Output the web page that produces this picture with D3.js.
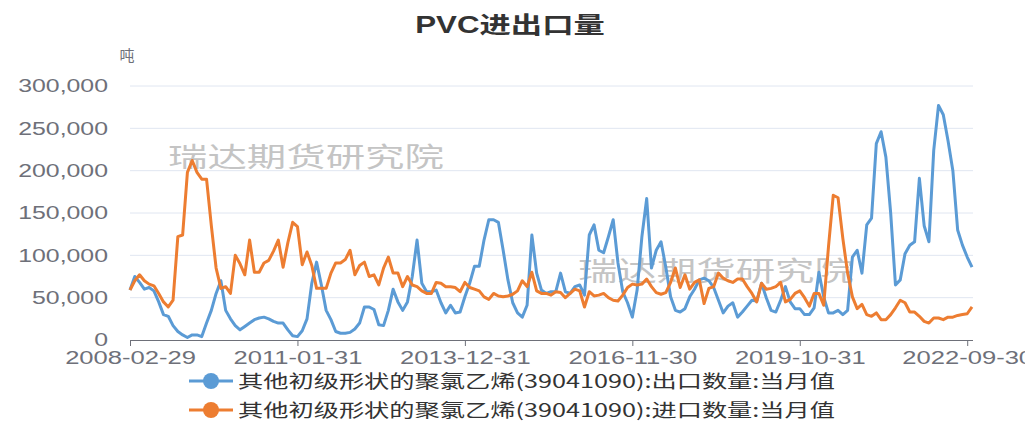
<!DOCTYPE html>
<html>
<head>
<meta charset="utf-8">
<script src="https://cdn.jsdelivr.net/npm/d3@7/dist/d3.min.js"></script>
<style>
  html, body { margin: 0; padding: 0; background: #fff; }
  svg { display: block; font-family: "Liberation Sans", Arial, "Noto Sans CJK SC", sans-serif; }
</style>
</head>
<body>
<svg id="chart" width="1025" height="422"></svg>
<script>
// PVC import / export volumes, monthly, 2008-02 .. 2022-10 (thousand tonnes)
const START = new Date(2008, 2, 1); // month-end labels: first of next month minus a day
const N = 177;

const yTicks = [0, 50000, 100000, 150000, 200000, 250000, 300000];

const seriesNames = [
  "其他初级形状的聚氯乙烯(39041090):出口数量:当月值",
  "其他初级形状的聚氯乙烯(39041090):进口数量:当月值"
];
const seriesColors = ["#5b9bd5", "#ed7d31"];

// export (blue), thousand tonnes
const exportK = [
  59,75,68,60,62,58,45,30,28,17,10,6,3,6,6,4,20,35,55,70,35,25,17,12,16,20,24,26,27,25,
  22,20,20,12,5,4,11,25,67,92,65,35,24,10,8,8,9,13,20,39,39,36,18,17,35,60,45,
  35,45,75,118,67,57,57,59,44,32,
  41,32,33,51,67,87,87,118,142,142,
  139,106,71,44,32,27,41,124,79,59,
  55,57,57,79,57,55,63,65,53,124,
  136,106,103,122,142,91,57,44,27,59,
  122,167,85,106,116,86,51,35,33,37,
  51,60,71,73,70,62,47,32,40,44,
  27,33,40,47,46,67,50,35,33,47,
  63,45,37,37,30,30,38,80,51,32,
  32,35,30,35,98,106,79,136,144,232,
  246,216,150,65,71,102,112,116,191,135,
  116,224,277,266,235,200,130,112,98,86
];

// import (orange), thousand tonnes
const importK = [
  59,70,77,70,66,64,55,45,39,47,122,124,198,212,198,190,190,135,85,61,63,55,100,90,77,118,80,80,91,94,
  105,118,86,115,139,134,89,104,88,61,61,61,79,91,91,95,106,77,88,92,75,77,65,85,98,79,79,
  63,75,65,63,58,55,55,68,67,63,
  63,62,57,68,62,60,58,51,48,55,
  52,51,52,54,58,70,63,80,58,55,
  55,53,57,56,50,55,60,58,39,57,
  52,53,55,50,47,46,53,62,66,65,
  66,72,63,56,54,56,68,85,62,77,
  60,68,71,43,61,63,79,73,70,68,
  72,72,63,55,45,67,60,61,63,68,
  45,48,55,58,50,40,55,55,41,110,
  171,168,120,79,51,37,42,30,28,32,
  24,24,30,38,47,44,33,33,28,22,
  20,26,26,24,27,27,29,30,31,39
];

const fmtDay = d3.timeFormat("%Y-%m-%d");
const monthLabels = d3.range(N).map(i => fmtDay(d3.timeDay.offset(d3.timeMonth.offset(START, i), -1)));
const tickLabels = monthLabels.filter((d, i) => i % 35 === 0);

const svg = d3.select("#chart");
const STRETCH = 1.38;
// the source picture is stretched sideways, so widen each text to match
function stretch(sel, k) {
  sel.each(function () {
    const w = this.getComputedTextLength();
    if (w > 0) d3.select(this).attr("textLength", w * (k || STRETCH)).attr("lengthAdjust", "spacingAndGlyphs");
  });
}

const x = d3.scalePoint().domain(monthLabels).range([130, 972]);
const y = d3.scaleLinear().domain([0, 300000]).range([340, 86]);

// grid
svg.append("g")
  .selectAll("line")
  .data(yTicks.slice(1))
  .join("line")
  .attr("x1", 130).attr("x2", 973)
  .attr("y1", d => y(d)).attr("y2", d => y(d))
  .attr("stroke", "#e0e6f1").attr("stroke-width", 1);

// y axis labels
const gy = svg.append("g").attr("transform", "translate(130,0)")
  .call(d3.axisLeft(y).tickValues(yTicks).tickFormat(d3.format(",")).tickSize(0).tickPadding(22));
gy.select(".domain").remove();
gy.selectAll("text").attr("fill", "#6e7079").attr("font-size", 18)
  .attr("font-family", "\"Liberation Sans\", Arial, sans-serif");
stretch(gy.selectAll("text"));

// x axis
const gx = svg.append("g").attr("transform", "translate(0,340)")
  .call(d3.axisBottom(x).tickValues(tickLabels).tickSize(6).tickSizeOuter(0).tickPadding(5));
gx.select(".domain").attr("stroke", "#6e7079").attr("d", "M130,0.5H973");
gx.selectAll(".tick line").attr("stroke", "#6e7079");
gx.selectAll("text").attr("fill", "#6e7079").attr("font-size", 18)
  .attr("font-family", "\"Liberation Sans\", Arial, sans-serif");
stretch(gx.selectAll("text"), 1.42);

// unit
svg.append("text").attr("x", 127).attr("y", 61).attr("text-anchor", "middle")
  .attr("font-size", 15).attr("fill", "#6e7079")
  .attr("font-family", "\"Noto Sans CJK SC\", sans-serif").text("吨");

// title
const title = svg.append("text").attr("x", 510).attr("y", 33).attr("text-anchor", "middle")
  .attr("font-size", 23).attr("font-weight", "bold").attr("fill", "#333")
  .attr("font-family", "\"Liberation Sans\", Arial, \"Noto Sans CJK SC\", sans-serif")
  .text("PVC进出口量");
stretch(title, 1.36);

// watermarks
[[306, 167], [716, 281]].forEach(([cx, cy]) => {
  const t = svg.append("text").attr("x", cx).attr("y", cy).attr("text-anchor", "middle")
    .attr("font-size", 27).attr("fill", "#c4c4c4")
    .attr("font-family", "\"Noto Sans CJK SC\", sans-serif")
    .text("瑞达期货研究院");
  stretch(t, 1.46);
});

// lines
const line = d3.line().x((d, i) => x(monthLabels[i])).y(d => y(d * 1000));
[exportK, importK].forEach((s, k) => {
  svg.append("path").datum(s)
    .attr("fill", "none").attr("stroke", seriesColors[k]).attr("stroke-width", 3)
    .attr("stroke-linejoin", "round")
    .attr("d", line);
});

// legend
const legend = svg.append("g");
seriesNames.forEach((name, k) => {
  const ly = 381 + k * 29;
  const g = legend.append("g");
  g.append("line").attr("x1", 189).attr("x2", 233).attr("y1", ly).attr("y2", ly)
    .attr("stroke", seriesColors[k]).attr("stroke-width", 3);
  g.append("circle").attr("cx", 211).attr("cy", ly).attr("r", 8).attr("fill", seriesColors[k]);
  g.append("text").attr("x", 238).attr("y", ly + 6.5)
    .attr("font-size", 18).attr("fill", "#333")
    .attr("font-family", "\"Noto Sans CJK SC\", sans-serif").text(name)
    .attr("textLength", 597).attr("lengthAdjust", "spacingAndGlyphs");
});
</script>
</body>
</html>
